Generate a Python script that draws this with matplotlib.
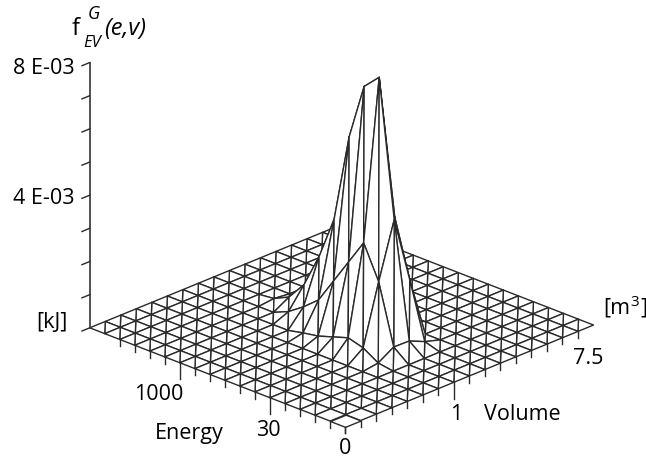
"""
Joint density surface f_EV^G(e,v) drawn as a white wire mesh, oblique view.
"""
import numpy as np
import matplotlib
matplotlib.use('Agg')
import matplotlib.pyplot as plt
from mpl_toolkits.mplot3d.art3d import Poly3DCollection

plt.rcParams.update({
    "font.family": ["Open Sans", "DejaVu Sans"],
    "font.size": 15.5,
})

W, H = 646, 457
INK = '#2a2a2a'

n_energy = 18
n_volume = 17

# surface height in units of 1E-03, one list per volume step, from this energy step on
f_v6 = (4, [0.07, 0.35, 0.48, 0.33, 0.18, 0.10])
f_v7 = (4, [0.36, 2.15, 3.15, 2.40, 1.65, 0.90, 0.52, 0.20])
f_v8 = (4, [0.35, 3.83, 7.95, 7.50, 5.80, 3.14, 1.84, 0.82, 0.27, 0.05])
f_v9 = (4, [0.14, 1.83, 3.55, 4.00, 2.50, 0.80, 0.20])
f_v10 = (6, [0.30, 0.50, 0.30, 0.10])
profiles = {6: f_v6, 7: f_v7, 8: f_v8, 9: f_v9, 10: f_v10}

long_energy_ticks = [5, 11]
long_volume_ticks = [7]
z_ticks = [0, 1, 2, 3, 4, 5, 6, 7, 8]
# cells at the front corner are left without their diagonal
plain_cells = [(0, 0), (1, 0), (0, 1)]


def main():
    Z = np.zeros((n_energy, n_volume))
    for v, (start, vals) in profiles.items():
        Z[start:start + len(vals), v] = vals

    fig = plt.figure(figsize=(W / 100, H / 100), dpi=100)
    S = 564
    ax = fig.add_axes([52 / W, -26.4 / H, S / W, S / H], projection='3d')
    ax.set_proj_type('ortho')
    ax.view_init(elev=23.5, azim=-135.8)
    ax.set_box_aspect((1, 1, 0.812))
    ax.set_xlim(0, n_volume - 1)
    ax.set_ylim(0, n_energy - 1)
    ax.set_zlim(0, 8)
    ax.set_axis_off()
    ax.computed_zorder = False

    # mesh goes back to front, one diagonal band of cells at a time, so the peak hides the floor
    def node(i, j):
        return (j, i, Z[i, j])

    last = n_energy + n_volume - 4
    for s in range(last, -1, -1):
        polys = []
        for i in range(n_energy - 1):
            j = s - i
            if j < 0 or j >= n_volume - 1:
                continue
            a, b = node(i, j), node(i, j + 1)
            c, d = node(i + 1, j), node(i + 1, j + 1)
            if (i, j) in plain_cells:
                polys.append([a, b, d, c])
            else:
                polys += [[a, c, d], [a, b, d]]
        ax.add_collection3d(Poly3DCollection(polys, facecolors='white', edgecolors=INK,
                                             linewidths=1.0, zorder=1 + (last - s) * 0.01))

    # floor ticks hanging under the two front edges
    for i in range(16):
        low = -0.5 if i in long_energy_ticks else -0.2
        ax.plot([0, 0], [i, i], [0, low], color=INK, lw=1.0, zorder=5)
    for j in range(16):
        low = -0.5 if j in long_volume_ticks else -0.2
        ax.plot([j, j], [0, 0], [0, low], color=INK, lw=1.0, zorder=5)

    # height axis at the far left corner
    top = n_energy - 1
    ax.plot([0, 0], [top, top], [0, 8], color='#444444', lw=1.3, zorder=5)
    for z in z_ticks:
        ax.plot([-0.5, 0], [top, top], [z, z], color=INK, lw=1.0, zorder=5)

    def label(x, y, s, **kw):
        fig.text(x / W, 1 - y / H, s, va='center', **kw)

    label(13, 68, '8 E-03')
    label(13, 198, '4 E-03')
    label(36, 323, '[kJ]')
    label(134, 394, '1000')
    label(155, 434, 'Energy')
    label(256, 431, '30')
    label(339, 448, '0')
    label(450, 415, '1')
    label(484, 415, 'Volume')
    label(573, 358, '7.5')
    label(603, 308, '[m')
    label(630, 302, '3', fontsize=11)
    label(640, 308, ']')
    label(72, 29, 'f', fontsize=17)
    label(88, 14, 'G', style='italic', fontsize=13)
    label(83, 43, 'EV', style='italic', fontsize=12)
    label(104, 29, '(e,v)', style='italic', fontsize=17)

    fig.savefig('out.png', dpi=100)
    plt.close(fig)


if __name__ == '__main__':
    main()
